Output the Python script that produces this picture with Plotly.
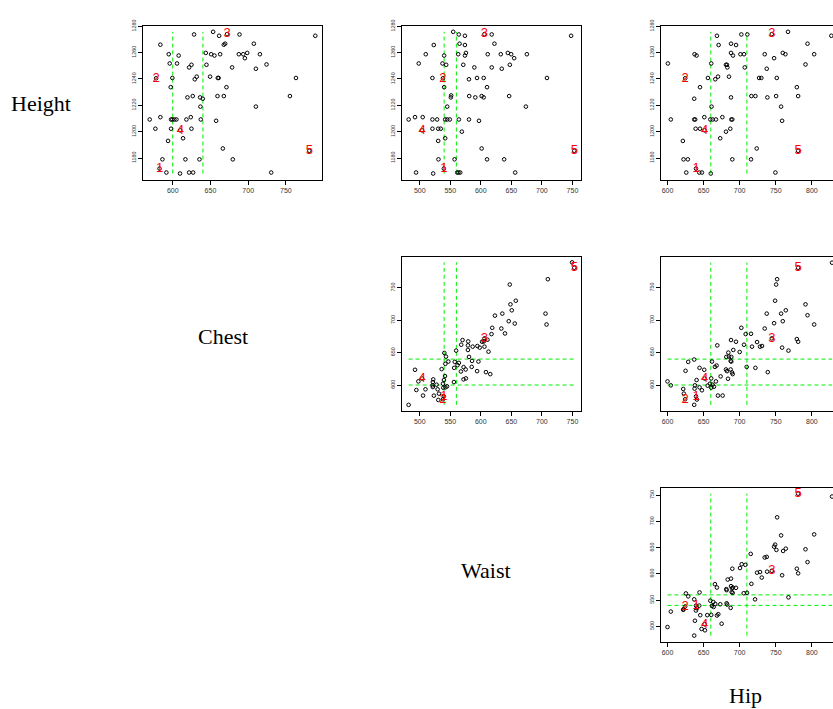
import plotly.graph_objects as go

W, H = 833, 709

# ---- axis limits, ticks and size-group cut points -------------------------
height_range = [1163.7, 1280.3]
chest_range = [560.6, 797.8]
waist_range = [471.0, 764.0]
hip_range = [591.0, 829.3]          # right side of the last column runs off the page

height_ticks = [1180, 1200, 1220, 1240, 1260, 1280]
chest_ticks = [600, 650, 700, 750]
waist_ticks = [500, 550, 600, 650, 700, 750]
hip_ticks = [600, 650, 700, 750, 800]

chest_cuts = [600, 640]
waist_cuts = [540, 560]
hip_cuts = [660, 710]

# ---- prototype bodies for size groups 1-5 ---------------------------------
group_labels = ["1", "2", "3", "4", "5"]
group_height = [1172.0, 1240.5, 1274.0, 1201.0, 1185.5]
group_chest = [582.5, 578.0, 672.0, 610.0, 781.0]
group_waist = [539.5, 538.0, 606.0, 504.0, 753.0]
group_hip = [639.5, 624.5, 744.5, 651.5, 781.0]

# ---- Height vs Chest ------------------------------------------------------
hc_chest = [628.3, 653.5, 661.5, 688.5, 788.9, 583.6, 667.7, 669.5, 707.5, 594.7,
            607.9, 643.8, 650.9, 655.3, 662.8, 687.6, 693.4, 695.6, 698.7, 715.5,
            596.0, 605.7, 621.7, 624.8, 644.7, 678.7, 724.3, 710.2, 599.5, 629.2,
            631.8, 649.5, 659.7, 660.8, 763.3, 597.3, 671.2, 619.5, 626.5, 636.3,
            639.8, 659.3, 667.7, 755.3, 636.7, 710.2, 569.5, 583.6, 597.8, 599.5,
            602.2, 604.9, 618.1, 623.9, 637.2, 657.5, 577.0, 597.8, 624.8, 613.7,
            593.8, 666.4, 586.3, 616.8, 635.4, 679.6, 591.6, 609.7, 621.7, 627.0,
            730.5]
hc_height = [1273.75, 1275.75, 1272.75, 1273.75, 1272.75, 1266.0, 1266.0, 1266.75, 1266.75, 1258.75,
             1257.75, 1259.75, 1258.75, 1257.75, 1258.75, 1258.75, 1258.75, 1255.75, 1259.75, 1258.75,
             1251.75, 1251.75, 1248.75, 1250.75, 1250.75, 1248.75, 1251.0, 1247.75, 1240.75, 1239.75,
             1241.75, 1241.75, 1240.75, 1240.75, 1240.75, 1233.75, 1233.75, 1226.0, 1227.0, 1226.0,
             1225.0, 1227.0, 1227.0, 1227.0, 1219.0, 1219.0, 1209.25, 1211.0, 1209.25, 1209.25,
             1209.25, 1209.25, 1209.25, 1211.0, 1209.25, 1208.25, 1202.25, 1202.25, 1202.25, 1195.0,
             1193.0, 1187.25, 1179.0, 1179.0, 1179.0, 1179.0, 1169.0, 1168.25, 1169.0, 1169.0,
             1169.0]

# ---- Height vs Waist ------------------------------------------------------
hw_waist = [554.8, 564.0, 574.0, 617.9, 747.8, 523.0, 565.2, 574.0, 622.3, 509.9,
            540.0, 563.0, 574.0, 575.7, 611.3, 632.7, 644.2, 649.7, 654.6, 675.4,
            498.4, 537.3, 543.3, 571.3, 589.4, 617.9, 634.3, 647.5, 520.8, 580.6,
            593.8, 604.7, 708.3, 540.0, 610.2, 551.0, 551.5, 581.0, 591.0, 601.4,
            604.7, 646.4, 545.0, 673.8, 481.9, 492.3, 504.9, 520.8, 528.5, 541.7,
            545.0, 549.3, 564.1, 580.6, 597.0, 520.8, 530.2, 534.5, 569.0, 530.2,
            541.7, 601.4, 530.7, 557.0, 610.2, 638.2, 494.0, 522.0, 561.4, 563.6,
            566.3, 656.3]
hw_height = [1275.75, 1273.75, 1272.75, 1273.75, 1272.75, 1265.75, 1266.75, 1265.75, 1266.75, 1258.75,
             1257.75, 1258.75, 1257.75, 1259.75, 1258.75, 1258.75, 1259.75, 1258.75, 1255.75, 1258.75,
             1251.75, 1251.75, 1250.75, 1250.75, 1248.75, 1248.75, 1247.75, 1250.75, 1240.75, 1239.75,
             1240.75, 1240.75, 1240.75, 1233.75, 1233.75, 1226.0, 1227.5, 1227.0, 1226.0, 1227.0,
             1226.0, 1227.0, 1219.0, 1219.0, 1209.25, 1211.0, 1211.0, 1209.25, 1209.25, 1209.25,
             1209.25, 1209.25, 1209.25, 1209.25, 1208.25, 1202.25, 1202.25, 1202.25, 1200.0, 1193.0,
             1195.0, 1187.25, 1179.0, 1179.0, 1179.0, 1179.0, 1169.0, 1168.25, 1169.0, 1169.0,
             1169.0, 1169.0]

# ---- Height vs Hip --------------------------------------------------------
hh_hip = [668.5, 702.3, 710.6, 767.0, 827.0, 670.8, 688.0, 695.0, 794.0, 637.5,
          640.3, 688.0, 690.7, 701.0, 706.0, 734.7, 747.7, 759.7, 763.4, 803.2,
          600.5, 660.6, 681.0, 682.4, 682.9, 707.0, 737.5, 791.2, 656.0, 666.2,
          670.0, 685.2, 726.9, 730.0, 751.4, 645.0, 779.2, 637.0, 688.0, 716.2,
          721.8, 738.4, 750.5, 781.0, 661.0, 757.4, 604.6, 637.0, 638.4, 651.0,
          659.3, 662.5, 667.1, 676.0, 688.4, 689.8, 758.8, 639.0, 645.0, 681.0,
          687.0, 673.0, 621.3, 723.6, 622.2, 628.2, 689.8, 715.7, 626.0, 644.0,
          647.7, 660.0, 749.5]
hh_height = [1272.75, 1273.75, 1273.75, 1275.75, 1272.75, 1265.75, 1266.75, 1265.75, 1266.75, 1258.75,
             1257.75, 1259.75, 1257.75, 1258.75, 1258.75, 1258.75, 1255.75, 1259.75, 1258.75, 1258.75,
             1251.75, 1251.75, 1250.75, 1250.75, 1248.75, 1248.75, 1247.75, 1251.0, 1240.75, 1239.75,
             1241.75, 1241.75, 1240.75, 1240.75, 1240.75, 1233.75, 1233.75, 1225.0, 1226.0, 1227.0,
             1227.0, 1226.0, 1227.0, 1227.0, 1219.0, 1219.0, 1209.25, 1209.25, 1209.25, 1211.0,
             1209.25, 1209.25, 1209.25, 1211.0, 1209.25, 1209.25, 1208.25, 1202.25, 1202.25, 1200.0,
             1202.25, 1195.0, 1193.0, 1187.25, 1179.0, 1179.0, 1179.0, 1179.0, 1169.0, 1169.0,
             1169.0, 1168.25, 1169.0]

# ---- Chest vs Waist -------------------------------------------------------
cw_waist = [749.4, 709.7, 647.4, 648.5, 657.3, 650.7, 635.2, 623.1, 645.7, 655.6,
            705.9, 707.6, 618.7, 633.6, 639.6, 617.5, 602.1, 610.9, 604.9, 612.6,
            594.4, 598.2, 606.0, 570.1, 579.4, 567.9, 578.9, 586.7, 578.9, 559.6,
            580.7, 585.7, 596.1, 593.9, 608.4, 615.5, 585.1, 571.8, 575.2, 564.1,
            561.9, 557.4, 556.4, 540.3, 543.0, 542.0, 546.9, 535.9, 575.6, 567.4,
            571.7, 556.0, 541.4, 539.7, 538.1, 542.0, 538.6, 544.7, 530.4, 527.6,
            529.3, 531.5, 523.2, 522.1, 521.5, 521.0, 521.5, 509.4, 505.5, 494.5,
            492.3, 497.8, 481.8]
cw_chest = [789.3, 763.3, 755.1, 724.5, 730.1, 715.3, 710.2, 707.1, 698.5, 694.9,
            710.2, 693.4, 688.3, 687.2, 679.6, 678.6, 666.8, 669.9, 667.3, 651.5,
            660.2, 657.7, 659.2, 669.4, 667.3, 662.2, 661.2, 659.2, 654.1, 653.1,
            643.4, 637.2, 636.2, 621.4, 619.9, 616.8, 628.0, 627.6, 624.0, 634.2,
            630.6, 635.7, 626.5, 649.5, 643.9, 632.7, 636.2, 624.5, 610.2, 620.9,
            608.7, 604.6, 613.8, 607.7, 602.0, 596.4, 595.9, 597.9, 577.0, 600.5,
            593.4, 586.7, 583.6, 608.7, 604.6, 599.5, 596.9, 593.4, 583.7, 592.3,
            623.5, 605.6, 569.4]

# ---- Chest vs Hip ---------------------------------------------------------
ch_hip = [828.0, 751.9, 750.5, 749.1, 791.2, 794.0, 803.2, 737.5, 757.4, 759.7,
          747.7, 763.9, 734.7, 702.3, 708.3, 715.7, 724.1, 717.1, 728.2, 731.0,
          779.2, 781.0, 758.8, 767.6, 706.0, 700.0, 694.9, 688.0, 691.2, 684.3,
          685.2, 688.4, 681.5, 687.5, 688.4, 669.0, 668.0, 665.7, 661.6, 681.0,
          682.4, 687.5, 689.4, 690.3, 683.8, 673.6, 709.7, 721.8, 738.9, 669.9,
          676.4, 667.1, 662.5, 660.6, 658.8, 664.4, 660.6, 655.6, 650.9, 644.4,
          637.0, 628.7, 625.0, 640.3, 644.4, 647.7, 638.0, 637.5, 640.7, 637.0,
          621.8, 622.7, 600.0, 604.6]
ch_chest = [788.8, 763.3, 755.1, 730.1, 724.5, 707.7, 693.4, 710.2, 710.2, 698.5,
            695.4, 715.3, 687.2, 688.3, 678.6, 679.1, 666.3, 659.2, 659.2, 660.2,
            670.9, 666.8, 657.7, 653.1, 662.2, 651.0, 666.8, 669.4, 654.1, 650.0,
            643.9, 643.4, 643.4, 637.2, 636.2, 661.2, 630.1, 628.0, 636.2, 624.0,
            621.4, 624.0, 619.4, 616.8, 609.7, 613.3, 628.0, 626.5, 619.9, 583.7,
            583.7, 605.6, 600.5, 610.2, 602.0, 597.4, 595.9, 599.0, 623.5, 626.5,
            639.3, 635.7, 621.9, 607.7, 596.4, 591.9, 599.5, 594.4, 577.6, 569.4,
            593.9, 586.7, 605.6, 599.5]

# ---- Waist vs Hip ---------------------------------------------------------
wh_hip = [828.0, 751.9, 757.4, 803.2, 749.1, 747.7, 750.9, 760.2, 763.9, 791.2,
          794.0, 737.5, 734.7, 715.3, 707.9, 702.8, 700.5, 689.8, 716.2, 724.1,
          728.2, 730.6, 738.0, 758.8, 779.2, 781.0, 767.6, 721.3, 710.2, 705.6,
          681.5, 681.9, 683.4, 688.0, 688.0, 689.4, 690.7, 694.9, 688.9, 690.3,
          665.7, 668.5, 681.9, 682.8, 687.5, 675.0, 673.1, 666.2, 663.4, 659.3,
          661.6, 663.9, 660.6, 668.5, 670.4, 655.1, 645.4, 644.0, 644.4, 640.7,
          639.4, 637.0, 625.5, 628.7, 621.8, 622.2, 638.0, 647.2, 651.9, 637.0,
          604.6, 600.0]
wh_waist = [747.5, 707.9, 673.4, 675.3, 655.8, 652.0, 645.7, 643.8, 648.1, 647.0,
            622.5, 632.5, 631.3, 638.2, 617.3, 618.5, 611.2, 609.9, 581.0, 602.4,
            603.6, 593.0, 604.3, 597.4, 609.9, 601.1, 555.3, 551.5, 564.0, 563.2,
            571.0, 569.0, 589.2, 591.0, 576.6, 572.9, 574.0, 573.5, 565.3, 564.0,
            580.4, 574.1, 544.0, 541.5, 535.2, 505.0, 542.1, 542.7, 546.5, 549.0,
            538.9, 537.0, 521.9, 520.7, 523.2, 521.4, 521.3, 539.6, 564.7, 534.6,
            530.2, 551.5, 562.8, 557.2, 531.5, 532.7, 510.7, 495.0, 492.5, 482.4,
            528.2, 498.7]

for a, b in [(hc_chest, hc_height), (hw_waist, hw_height), (hh_hip, hh_height),
             (cw_waist, cw_chest), (ch_hip, ch_chest), (wh_hip, wh_waist)]:
    assert len(a) == len(b)

# ---- page geometry (pixels) -----------------------------------------------
col_px = {2: (143, 322), 3: (402, 581), 4: (661, 833)}
row_px = {1: (20, 175), 2: (253, 408), 3: (486, 641)}

variables = {
    "Height": dict(range=height_range, ticks=height_ticks, cuts=[], proto=group_height),
    "Chest": dict(range=chest_range, ticks=chest_ticks, cuts=chest_cuts, proto=group_chest),
    "Waist": dict(range=waist_range, ticks=waist_ticks, cuts=waist_cuts, proto=group_waist),
    "Hip": dict(range=hip_range, ticks=hip_ticks, cuts=hip_cuts, proto=group_hip),
}

panels = [
    (1, 2, "Chest", "Height", hc_chest, hc_height),
    (1, 3, "Waist", "Height", hw_waist, hw_height),
    (1, 4, "Hip", "Height", hh_hip, hh_height),
    (2, 3, "Waist", "Chest", cw_waist, cw_chest),
    (2, 4, "Hip", "Chest", ch_hip, ch_chest),
    (3, 4, "Hip", "Waist", wh_hip, wh_waist),
]

GREEN = "#00ee00"
tick_font_x = dict(family="Liberation Sans, Arial, sans-serif", size=7, color="#333333")
tick_font_y = dict(family="Liberation Sans, Arial, sans-serif", size=5.4, color="#333333")

fig = go.Figure()
layout = dict(
    width=W, height=H, margin=dict(l=0, r=0, t=0, b=0),
    paper_bgcolor="white", plot_bgcolor="white", showlegend=False,
)

for i, (row, col, xv, yv, xs, ys) in enumerate(panels, start=1):
    xa, ya = f"x{i}", f"y{i}"
    xinfo, yinfo = variables[xv], variables[yv]
    x0, x1 = col_px[col]
    y0, y1 = row_px[row]

    layout[f"xaxis{i}"] = dict(
        domain=[x0 / W, x1 / W], range=xinfo["range"], anchor=ya,
        tickvals=xinfo["ticks"], ticks="outside", ticklen=4, tickwidth=1,
        tickcolor="black", showline=True, linecolor="black", linewidth=1,
        mirror=True, showgrid=False, zeroline=False, tickfont=tick_font_x,
    )
    layout[f"yaxis{i}"] = dict(
        domain=[1 - y1 / H, 1 - y0 / H], range=yinfo["range"], anchor=xa,
        tickvals=yinfo["ticks"], ticks="outside", ticklen=4, tickwidth=1,
        tickcolor="black", showline=True, linecolor="black", linewidth=1,
        mirror=(col != 4), showgrid=False, zeroline=False, tickfont=tick_font_y,
        tickangle=-90,
    )

    all_x = list(xs) + list(xinfo["proto"])
    all_y = list(ys) + list(yinfo["proto"])

    # dashed group boundaries spanning the data extent
    for c in xinfo["cuts"]:
        fig.add_trace(go.Scatter(
            x=[c, c], y=[min(all_y), max(all_y)], xaxis=xa, yaxis=ya,
            mode="lines", line=dict(color=GREEN, width=1, dash="4px,3px"),
            hoverinfo="skip"))
    for c in yinfo["cuts"]:
        fig.add_trace(go.Scatter(
            x=[min(all_x), max(all_x)], y=[c, c], xaxis=xa, yaxis=ya,
            mode="lines", line=dict(color=GREEN, width=1, dash="4px,3px"),
            hoverinfo="skip"))

    marker = dict(symbol="circle-open", size=3.6, color="black", line=dict(width=1, color="black"))
    fig.add_trace(go.Scatter(x=xs, y=ys, xaxis=xa, yaxis=ya, mode="markers", marker=marker))
    fig.add_trace(go.Scatter(x=xinfo["proto"], y=yinfo["proto"], xaxis=xa, yaxis=ya,
                             mode="markers", marker=marker))
    fig.add_trace(go.Scatter(
        x=xinfo["proto"], y=yinfo["proto"], xaxis=xa, yaxis=ya, mode="text",
        text=group_labels, textposition="middle center",
        textfont=dict(family="Liberation Sans, Arial, sans-serif", size=13, color="#ff0000")))

# variable names
name_pos = {"Height": (41, 98), "Chest": (222.5, 333), "Waist": (486, 569), "Hip": (745, 695)}
annotations = []
for name, (px, py) in name_pos.items():
    annotations.append(dict(
        x=px / W, y=1 - py / H, xref="paper", yref="paper", text=name,
        showarrow=False, xanchor="center", yanchor="middle",
        font=dict(family="Liberation Serif, Times New Roman, serif", size=22, color="black")))
layout["annotations"] = annotations

fig.update_layout(**layout)
fig.write_html("out.html")
